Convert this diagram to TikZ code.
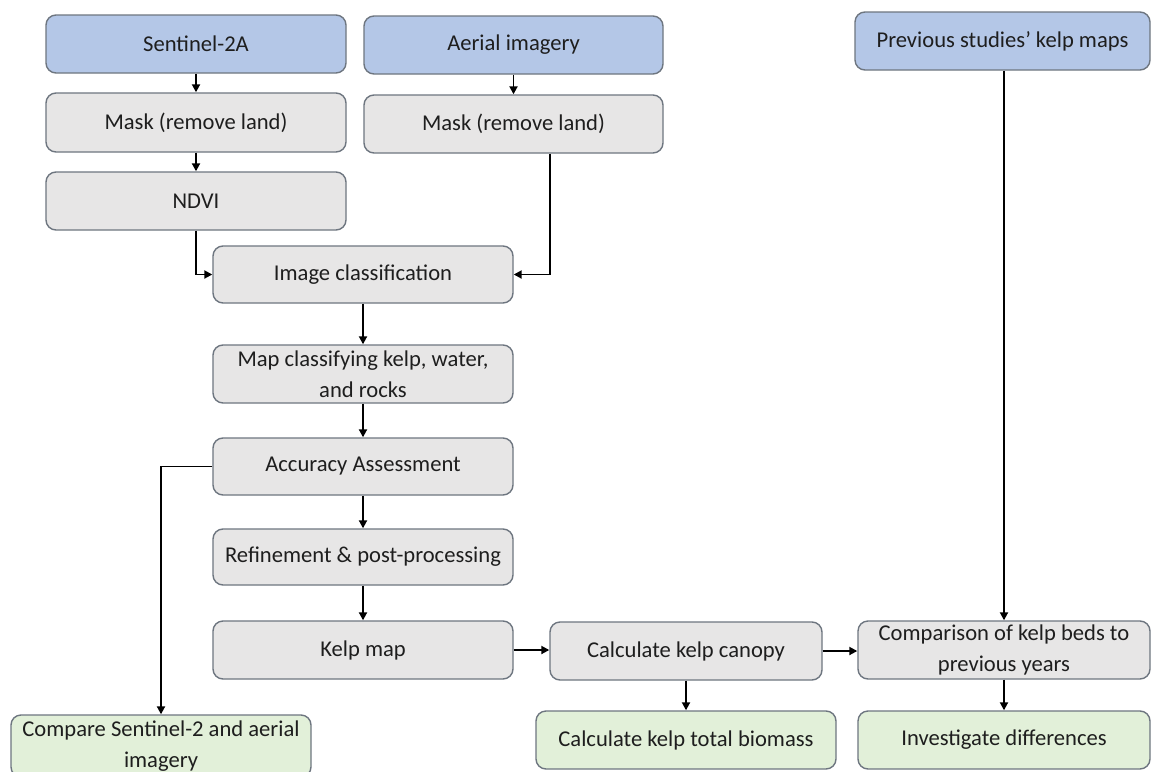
\documentclass[tikz,border=0pt]{standalone}
\usepackage{fontspec}
\setmainfont{Carlito}
\usetikzlibrary{arrows.meta,positioning}
\definecolor{bluefill}{RGB}{180,199,231}
\definecolor{grayfill}{RGB}{231,230,230}
\definecolor{greenfill}{RGB}{226,240,217}
\definecolor{boxline}{RGB}{110,118,128}
\definecolor{txt}{RGB}{30,30,30}
\begin{document}
\begin{tikzpicture}[x=1pt,y=-1pt,
  box/.style={draw=boxline, line width=1.4pt, rounded corners=10pt, rectangle,
    minimum width=300pt, minimum height=58pt, inner sep=2pt, align=center,
    text=txt, font=\fontsize{22.6}{31}\selectfont},
  bluebox/.style={box, fill=bluefill},
  graybox/.style={box, fill=grayfill},
  greenbox/.style={box, fill=greenfill},
  arr/.style={line width=1.9pt, draw=black, -{Triangle[length=8pt,width=8pt]}}]
\useasboundingbox[fill=white] (0,0) rectangle (1151,771);
\begin{scope}
\clip (0,0) rectangle (1151,771);
% top row
\node[bluebox] (s2a) at (196,44) {Sentinel-2A};
\node[bluebox, minimum width=299pt] (aer) at (513.5,45) {Aerial imagery};
\node[bluebox, minimum width=295pt] (prev) at (1002.5,41) {Previous studies’ kelp maps};
% masks
\node[graybox, minimum height=59pt] (mask1) at (196,122.5) {Mask (remove land)};
\node[graybox, minimum width=299pt] (mask2) at (513.5,124) {Mask (remove land)};
\node[graybox] (ndvi) at (196,201) {NDVI};
% central column
\node[graybox, minimum height=57pt] (imgc) at (363,274.5) {Image classification};
\node[graybox] (map) at (363,374) {Map classifying kelp, water,\\and rocks};
\node[graybox, minimum height=57pt] (acc) at (363,466.5) {Accuracy Assessment};
\node[graybox, minimum height=56pt] (ref) at (363,557) {Refinement \& post-processing};
\node[graybox] (kelp) at (363,650) {Kelp map};
\node[graybox, minimum width=272pt] (canopy) at (686,651) {Calculate kelp canopy};
\node[graybox, minimum width=292pt] (comp) at (1004,650) {Comparison of kelp beds to\\previous years};
% outputs
\node[greenbox, minimum height=62pt] (cmps2) at (161,746) {Compare Sentinel-2 and aerial\\imagery};
\node[greenbox] (bio) at (686,740) {Calculate kelp total biomass};
\node[greenbox, minimum width=292pt] (inv) at (1004,740) {Investigate differences};
\end{scope}
% connectors
\draw[arr] (s2a) -- (mask1);
\draw[arr] (aer) -- (mask2);
\draw[arr] (mask1) -- (ndvi);
\draw[arr] (ndvi.south) |- (imgc.west);
\draw[arr] ([xshift=36.5pt]mask2.south) |- (imgc.east);
\draw[arr] (imgc) -- (map);
\draw[arr] (map) -- (acc);
\draw[arr] (acc) -- (ref);
\draw[arr] (ref) -- (kelp);
\draw[arr] (acc.west) -| (cmps2.north);
\draw[arr] (kelp.east) -- (kelp.east -| canopy.west);
\draw[arr] (canopy.east) -- (canopy.east -| comp.west);
\draw[arr] (comp.north |- prev.south) -- (comp.north);
\draw[arr] (canopy) -- (bio);
\draw[arr] (comp) -- (inv);
\end{tikzpicture}
\end{document}
